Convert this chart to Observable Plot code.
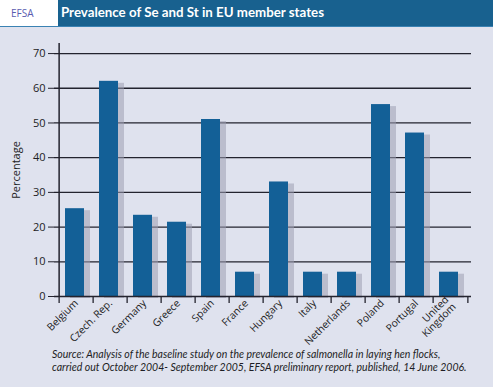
<!DOCTYPE html>
<html>
<head>
<meta charset="utf-8">
<script src="https://cdn.jsdelivr.net/npm/d3@7"></script>
<script src="https://cdn.jsdelivr.net/npm/@observablehq/plot@0.6"></script>
<style>
  html, body { margin: 0; padding: 0; background: #dfe2ee; width: 493px; height: 387px; overflow: hidden; }
  #header { position: relative; height: 26px; background: #18618f; border-bottom: 1px solid #3a82b3; }
  #logo { position: absolute; left: 0; top: 0; width: 58px; height: 26px; background: #fff;
          font: 10px "Open Sans", sans-serif; color: #5a5cb0; line-height: 26px; padding-left: 11px; box-sizing: border-box; }
  #title { position: absolute; left: 61px; top: 0; color: #fff;
           font: bold 13.3px "Lato", sans-serif; line-height: 25px; }
  #chart svg { display: block; overflow: visible; }
  #caption { position: absolute; left: 52px; top: 348px; font: italic 10.5px "Lato", sans-serif; color: #1d1d24; line-height: 12.5px; white-space: nowrap; }
</style>
</head>
<body>
<div id="header"><div id="logo">EFSA</div><div id="title">Prevalence of Se and St in EU member states</div></div>
<div id="chart"></div>
<div id="caption">Source: Analysis of the baseline study on the prevalence of salmonella in laying hen flocks,<br>carried out October 2004- September 2005, EFSA preliminary report, published, 14 June 2006.</div>
<script>
const countries = ["Belgium", "Czech. Rep.", "Germany", "Greece", "Spain", "France", "Hungary", "Italy", "Netherlands", "Poland", "Portugal", "United\nKingdom"];
const prevalence = [25.3, 62, 23.4, 21.4, 51, 7, 33, 7, 7, 55.3, 47.1, 7];
const yTicks = [0, 10, 20, 30, 40, 50, 60, 70];
const yLabel = "Percentage";

const data = countries.map((c, i) => ({country: c, value: prevalence[i]}));

const W = 493, mL = 54, mR = 22;
const step = (W - mL - mR) / countries.length;

const plot = Plot.plot({
  width: W,
  height: 322,
  marginLeft: mL,
  marginRight: mR,
  marginTop: 16,
  marginBottom: 53,
  style: {background: "transparent", fontFamily: "'Open Sans', sans-serif", color: "#1d1d24", overflow: "visible"},
  x: {domain: countries, padding: 0, label: null},
  y: {domain: [0, 72.9], label: null},
  marks: [
    Plot.ruleY(yTicks.filter(d => d > 0), {stroke: "#23232e", strokeWidth: 1.3}),
    Plot.barY(data, {x: "country", y: "value", insetLeft: 8, insetRight: 6, dx: 3, dy: 2, fill: "#9c9eb2", fillOpacity: 0.55}),
    Plot.barY(data, {x: "country", y: "value", insetLeft: 6, insetRight: 9, fill: "#136097"}),
    Plot.ruleY([0], {stroke: "#23232e", strokeWidth: 1.5}),
    Plot.ruleX([countries[0]], {dx: -step / 2, stroke: "#23232e", strokeWidth: 1.5}),
    Plot.axisY({ticks: yTicks, tickSize: 6, tickPadding: 3, fontSize: 11, label: yLabel, labelAnchor: "center", labelArrow: "none", labelOffset: 42, stroke: "#23232e"}),
    Plot.axisX({tickSize: 7, dx: -step / 2, text: null, stroke: "#23232e", strokeWidth: 1.3}),
    Plot.axisX([countries[countries.length - 1]], {tickSize: 7, dx: step / 2, text: null, stroke: "#23232e", strokeWidth: 1.3}),
    Plot.axisX({tickSize: 0, tickRotate: -45, tickPadding: 5, fontSize: 10.3, label: null, textAnchor: "end", dx: 0})
  ]
});
document.getElementById("chart").appendChild(plot);
</script>
</body>
</html>
